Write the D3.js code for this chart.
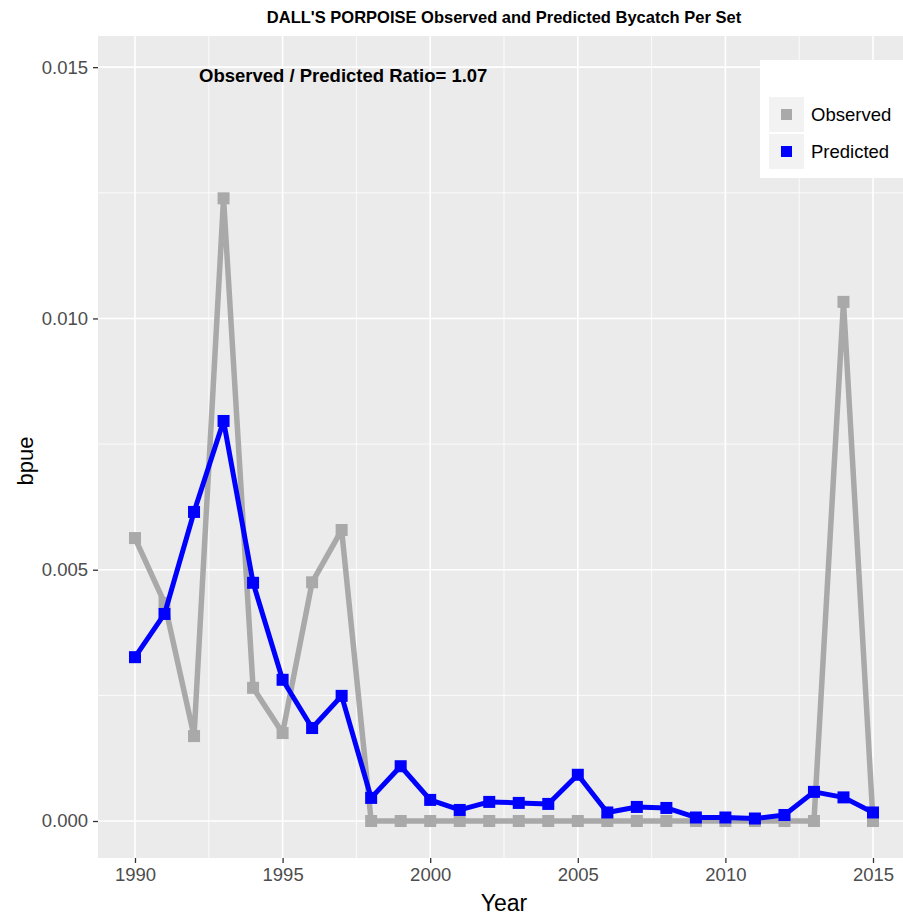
<!DOCTYPE html>
<html><head><meta charset="utf-8">
<script src="https://cdn.jsdelivr.net/npm/d3@7"></script>
<style>body{margin:0;background:#fff;}svg{display:block;font-family:"Liberation Sans",Arial,sans-serif;}</style>
</head><body>
<script>
const years = d3.range(1990, 2016);
const observed = [0.00563,0.00434,0.00169,0.01239,0.00265,0.00175,0.00475,0.00579,
  0,0,0,0,0,0,0,0,0,0,0,0,0,0,0,0,0.01033,0];
const predicted = [0.00326,0.00412,0.00615,0.00796,0.00474,0.00281,0.00185,0.00249,
  0.00046,0.00109,0.00042,0.00022,0.00038,0.00036,0.00034,0.00092,0.00017,0.00028,
  0.00026,0.00007,0.00007,0.00005,0.00012,0.00058,0.00047,0.00017];
const yTicks = [0, 0.005, 0.010, 0.015];
const xTicks = [1990, 1995, 2000, 2005, 2010, 2015];
const seriesNames = ["Observed", "Predicted"];
const seriesColors = ["#A9A9A9", "#0000FF"];
const titleText = "DALL'S PORPOISE Observed and Predicted Bycatch Per Set";
const ratioText = "Observed / Predicted Ratio= 1.07";

const W = 903, H = 918;
const panel = {l: 98, r: 903, t: 36, b: 858};
const svg = d3.select("body").append("svg").attr("width", W).attr("height", H);

const x = d3.scaleLinear().domain([1988.747, 2016.016]).range([panel.l, panel.r]);
const y = d3.scaleLinear().domain([-0.000736, 0.01562]).range([panel.b, panel.t]);

svg.append("rect").attr("x", panel.l).attr("y", panel.t)
  .attr("width", panel.r - panel.l).attr("height", panel.b - panel.t).attr("fill", "#EBEBEB");

const g = svg.append("g");
const xMinor = xTicks.map(v => v + 2.5).filter(v => v > x.domain()[0] && v < x.domain()[1]);
const yMinor = [0.0025, 0.0075, 0.0125];
g.selectAll(".xm").data(xMinor).enter().append("line")
  .attr("x1", d => x(d)).attr("x2", d => x(d)).attr("y1", panel.t).attr("y2", panel.b)
  .attr("stroke", "#fff").attr("stroke-width", 0.8);
g.selectAll(".ym").data(yMinor).enter().append("line")
  .attr("y1", d => y(d)).attr("y2", d => y(d)).attr("x1", panel.l).attr("x2", panel.r)
  .attr("stroke", "#fff").attr("stroke-width", 0.8);
g.selectAll(".xM").data(xTicks).enter().append("line")
  .attr("x1", d => x(d)).attr("x2", d => x(d)).attr("y1", panel.t).attr("y2", panel.b)
  .attr("stroke", "#fff").attr("stroke-width", 1.6);
g.selectAll(".yM").data(yTicks).enter().append("line")
  .attr("y1", d => y(d)).attr("y2", d => y(d)).attr("x1", panel.l).attr("x2", panel.r)
  .attr("stroke", "#fff").attr("stroke-width", 1.6);

const xAxis = d3.axisBottom(x).tickValues(xTicks).tickFormat(d3.format("d")).tickSize(5).tickPadding(5);
const yAxis = d3.axisLeft(y).tickValues(yTicks).tickFormat(d3.format(".3f")).tickSize(5).tickPadding(5);
const xa = svg.append("g").attr("transform", `translate(0,${panel.b})`).call(xAxis);
const ya = svg.append("g").attr("transform", `translate(${panel.l},0)`).call(yAxis);
[xa, ya].forEach(a => {
  a.select(".domain").remove();
  a.selectAll(".tick line").attr("stroke", "#333").attr("stroke-width", 1.3);
  a.selectAll(".tick text").attr("fill", "#4D4D4D").attr("font-size", 18.5)
    .attr("font-family", "Liberation Sans, Arial, sans-serif");
});

const data = [observed, predicted];
const line = d3.line().x((d, i) => x(years[i])).y(d => y(d));
data.forEach((vals, si) => {
  svg.append("path").datum(vals).attr("d", line).attr("fill", "none")
    .attr("stroke", seriesColors[si]).attr("stroke-width", si === 0 ? 5.5 : 5)
    .attr("stroke-linejoin", "round");
  svg.append("g").selectAll("rect").data(vals).enter().append("rect")
    .attr("x", (d, i) => x(years[i]) - 6).attr("y", d => y(d) - 6)
    .attr("width", 12).attr("height", 12).attr("fill", seriesColors[si]);
});

svg.append("text").attr("x", 504).attr("y", 23).attr("text-anchor", "middle")
  .attr("font-size", 16.5).attr("font-weight", "bold").text(titleText);
svg.append("text").attr("x", 199).attr("y", 82).attr("text-anchor", "start")
  .attr("font-size", 18.5).attr("font-weight", "bold").text(ratioText);
svg.append("text").attr("x", 504).attr("y", 911).attr("text-anchor", "middle")
  .attr("font-size", 23).attr("fill", "#000").text("Year");
svg.append("text").attr("transform", `translate(33,${(panel.t + panel.b) / 2 + 14}) rotate(-90)`)
  .attr("text-anchor", "middle").attr("font-size", 22).text("bpue");

const lg = svg.append("g");
lg.append("rect").attr("x", 760).attr("y", 60).attr("width", 145).attr("height", 118).attr("fill", "#fff");
seriesNames.forEach((name, i) => {
  const ky = 97 + i * 37;
  lg.append("rect").attr("x", 769).attr("y", ky).attr("width", 35).attr("height", 35).attr("fill", "#F2F2F2");
  lg.append("rect").attr("x", 781).attr("y", ky + 12).attr("width", 11).attr("height", 11).attr("fill", seriesColors[i]);
  lg.append("text").attr("x", 811).attr("y", ky + 24).attr("font-size", 18.5).text(name);
});
</script>
</body></html>
